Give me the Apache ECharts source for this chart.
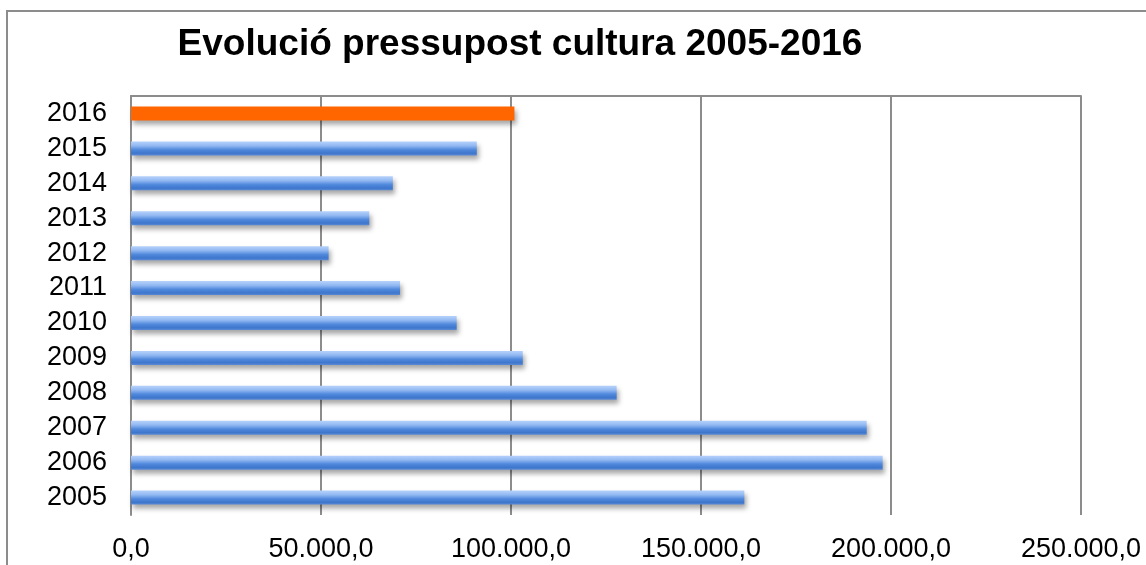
<!DOCTYPE html>
<html>
<head>
<meta charset="utf-8">
<script src="https://cdn.jsdelivr.net/npm/echarts@6/dist/echarts.min.js"></script>
<style>
html,body{margin:0;padding:0;background:#fff;}
#c{width:1146px;height:565px;}
</style>
</head>
<body>
<div id="c"></div>
<script>
const years = ['2005','2006','2007','2008','2009','2010','2011','2012','2013','2014','2015','2016'];
const budget = [161400, 197800, 193600, 127800, 103100, 85700, 70800, 52000, 62700, 68900, 91000, 100900];
const xTicks = [0, 50000, 100000, 150000, 200000, 250000];
const highlightYear = '2016';

function fmt(v) {
  const s = Math.round(v).toString().replace(/\B(?=(\d{3})+(?!\d))/g, '.');
  return s + ',0';
}

const blueGrad = new echarts.graphic.LinearGradient(0, 0, 0, 1, [
  {offset: 0, color: '#b6d2fb'},
  {offset: 0.3, color: '#93b9f2'},
  {offset: 0.6, color: '#5088dc'},
  {offset: 0.85, color: '#3e76cc'},
  {offset: 1, color: '#5a8ad6'}
]);

const seriesData = years.map((y, i) => ({
  value: budget[i],
  itemStyle: y === highlightYear ? {color: '#ff6600'} : {color: blueGrad}
}));

const chart = echarts.init(document.getElementById('c'), null, {renderer: 'canvas'});
chart.setOption({
  animation: false,
  backgroundColor: '#fff',
  title: {
    text: 'Evolució pressupost cultura 2005-2016',
    left: 515,
    textAlign: 'center',
    top: 21,
    textStyle: {fontFamily: 'Liberation Sans, Arial, sans-serif', fontWeight: 'bold', fontSize: 37, color: '#000'}
  },
  graphic: [{
    type: 'rect',
    shape: {x: 7, y: 11, width: 1300, height: 700},
    style: {fill: 'none', stroke: '#8c8c8c', lineWidth: 2},
    silent: true
  }],
  grid: {left: 131, right: 65, top: 96, bottom: 50, containLabel: false},
  xAxis: [{
    type: 'value',
    min: xTicks[0],
    max: xTicks[xTicks.length - 1],
    interval: xTicks[1] - xTicks[0],
    axisLine: {show: false},
    axisTick: {show: false},
    axisLabel: {
      formatter: fmt,
      fontFamily: 'Liberation Sans, Arial, sans-serif',
      fontSize: 27,
      color: '#000',
      margin: 21,
      showMinLabel: true,
      showMaxLabel: true
    },
    splitLine: {show: true, lineStyle: {color: '#8c8c8c', width: 2}}
  }, {
    type: 'value',
    position: 'top',
    min: xTicks[0],
    max: xTicks[xTicks.length - 1],
    interval: xTicks[1] - xTicks[0],
    axisLine: {show: true, lineStyle: {color: '#8c8c8c', width: 2}},
    axisTick: {show: false},
    axisLabel: {show: false},
    splitLine: {show: false}
  }],
  yAxis: {
    type: 'category',
    data: years,
    axisLine: {show: true, lineStyle: {color: '#8c8c8c', width: 2}},
    axisTick: {show: false},
    axisLabel: {
      interval: 0,
      hideOverlap: false,
      fontFamily: 'Liberation Sans, Arial, sans-serif',
      fontSize: 27,
      color: '#000',
      margin: 24
    }
  },
  series: [{
    type: 'bar',
    data: seriesData,
    barWidth: 14,
    itemStyle: {
      shadowColor: 'rgba(0,0,0,0.35)',
      shadowBlur: 5,
      shadowOffsetX: 2,
      shadowOffsetY: 4
    }
  }]
});
</script>
</body>
</html>
